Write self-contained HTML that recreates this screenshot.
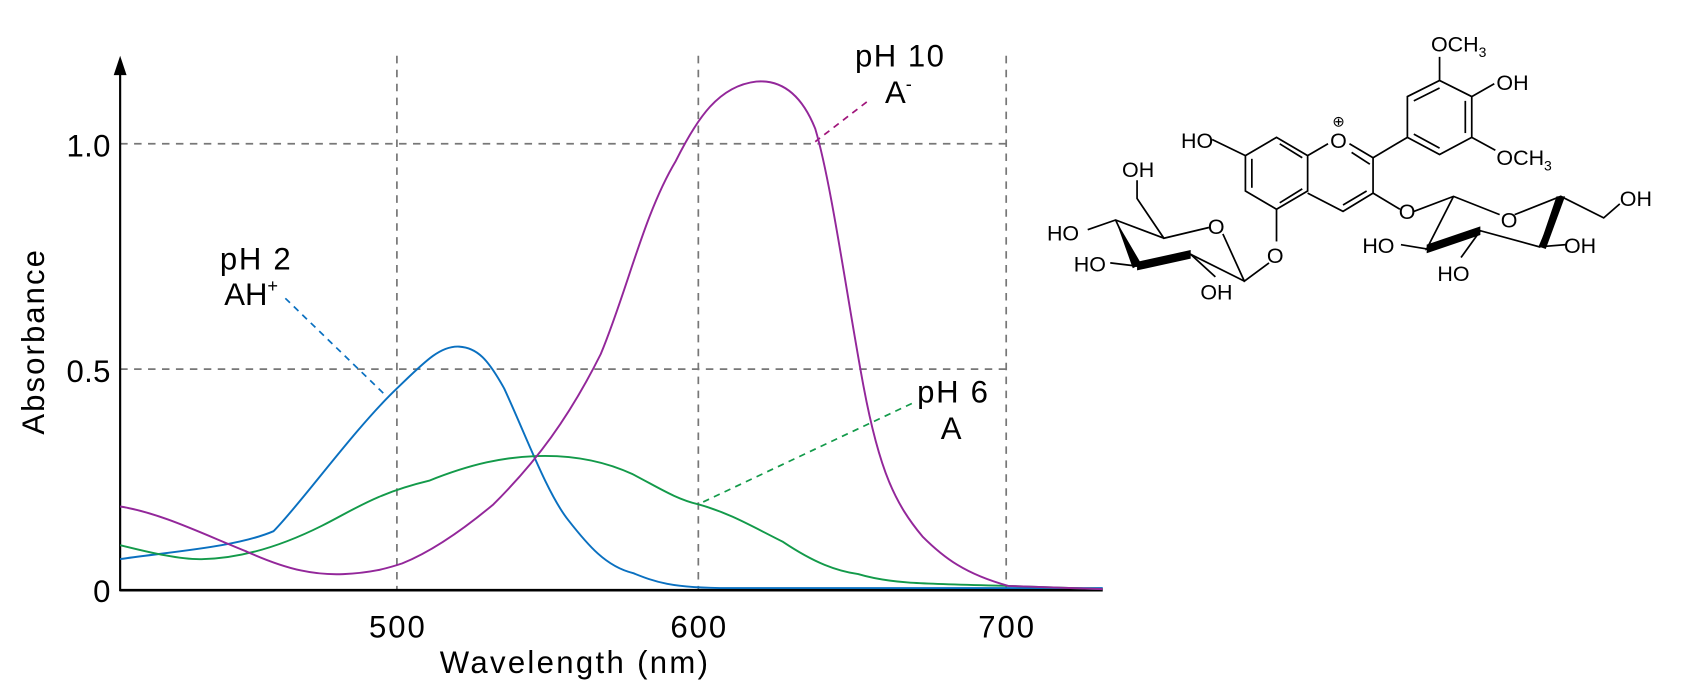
<!DOCTYPE html>
<html><head><meta charset="utf-8"><style>
html,body{margin:0;padding:0;background:#fff;}
svg{display:block;}
text{font-family:"Liberation Sans",sans-serif;fill:#000;}
</style></head><body>
<svg width="1682" height="690" viewBox="0 0 1568 643" preserveAspectRatio="none" xmlns="http://www.w3.org/2000/svg">
<g stroke="#777" stroke-width="1.6" stroke-dasharray="7,6" fill="none">
<line x1="370" y1="52" x2="370" y2="550"/>
<line x1="651" y1="52" x2="651" y2="550"/>
<line x1="938" y1="52" x2="938" y2="550"/>
<line x1="112" y1="134" x2="938" y2="134"/>
<line x1="112" y1="344" x2="938" y2="344"/>
</g>
<line x1="112" y1="65" x2="112" y2="551" stroke="#000" stroke-width="2"/>
<polygon points="112,52 106,70 118,70" fill="#000"/>
<line x1="112" y1="550" x2="1028" y2="550" stroke="#000" stroke-width="2.5"/>
<g font-size="29">
<text x="103" y="146" text-anchor="end" textLength="41">1.0</text>
<text x="103" y="356" text-anchor="end" textLength="41">0.5</text>
<text x="103" y="561" text-anchor="end">0</text>
<text x="370" y="594" text-anchor="middle" textLength="52">500</text>
<text x="651" y="594" text-anchor="middle" textLength="52">600</text>
<text x="938" y="594" text-anchor="middle" textLength="52">700</text>
<text x="410" y="627" textLength="250">Wavelength (nm)</text>
<text transform="translate(41,405) rotate(-90)" textLength="172">Absorbance</text>
<text x="205" y="251" textLength="66">pH 2</text>
<text x="209" y="284">AH<tspan font-size="17" dy="-12">+</tspan></text>
<text x="797" y="62" textLength="83">pH 10</text>
<text x="825" y="96">A<tspan font-size="17" dy="-12">-</tspan></text>
<text x="855" y="375" textLength="66">pH 6</text>
<text x="877" y="409">A</text>
</g>
<g stroke-width="1.6" stroke-dasharray="6,5" fill="none">
<line x1="266" y1="278" x2="358" y2="367" stroke="#0a70c0"/>
<line x1="808" y1="95" x2="760" y2="132" stroke="#a0147a"/>
<line x1="850" y1="376" x2="655" y2="468" stroke="#139a4a"/>
</g>
<g fill="none" stroke-width="1.8">
<path stroke="#0a70c0" d="M112,521 C160,514 220,510 255,495 C280,470 330,400 370,362 C395,338 410,322 428,323 C445,324 455,335 470,362 C490,405 510,460 530,485 C548,508 565,528 590,534 C610,542 625,548 680,548 L1028,548"/>
<path stroke="#139a4a" d="M112,508 C140,515 170,522 190,521 C230,520 270,505 300,490 C330,475 350,460 400,448 C440,432 470,426 500,425 C530,424 560,428 590,442 C615,455 630,465 651,470 C680,478 700,490 730,505 C760,525 780,532 800,535 C830,544 860,544 940,546 L1028,549"/>
<path stroke="#93279a" d="M112,472 C150,478 190,498 230,514 C270,532 295,536 320,535 C345,534 360,530 375,525 C400,515 430,495 460,470 C500,430 530,390 560,330 C585,270 600,200 630,150 C650,110 670,80 705,76 C730,74 748,90 760,120 C775,170 790,280 805,360 C820,440 835,470 860,500 C880,520 900,535 940,546 L1028,549"/>
</g>
<g stroke="#000" stroke-width="1.6" fill="none">
<polyline points="1161,145 1190,128 1219,145 1219,178 1190,195 1161,178 1161,145"/>
<line x1="1167" y1="175" x2="1167" y2="148"/>
<line x1="1193" y1="189" x2="1214" y2="176"/>
<line x1="1193" y1="134" x2="1214" y2="147"/>
<polyline points="1219,145 1238,134"/>
<polyline points="1258,134 1280,147 1280,180 1252,197 1219,180"/>
<line x1="1252" y1="191" x2="1274" y2="178"/>
<line x1="1277" y1="153" x2="1260" y2="142"/>
<line x1="1161" y1="145" x2="1130" y2="130"/>
<line x1="1280" y1="147" x2="1312" y2="128"/>
<polyline points="1312,128 1312,90 1342,75 1372,90 1372,128 1342,144 1312,128"/>
<line x1="1318" y1="94" x2="1342" y2="82"/>
<line x1="1366" y1="94" x2="1366" y2="124"/>
<line x1="1318" y1="125" x2="1342" y2="138"/>
<line x1="1342" y1="75" x2="1342" y2="53"/>
<line x1="1372" y1="90" x2="1393" y2="78"/>
<line x1="1372" y1="128" x2="1394" y2="140"/>
<line x1="1190" y1="195" x2="1190" y2="225"/>
<line x1="1280" y1="180" x2="1305" y2="195"/>
<polyline points="1183,245 1160,262 1140,218"/>
<polyline points="1127,212 1085,222 1060,185 1060,168"/>
<polyline points="1085,222 1040,205 1014,214"/>
<line x1="1040" y1="205" x2="1060" y2="248"/>
<line x1="1060" y1="248" x2="1035" y2="245"/>
<polyline points="1060,248 1110,237 1160,262"/>
<line x1="1110" y1="237" x2="1133" y2="258"/>
<polyline points="1318,197 1355,183 1398,200"/>
<polyline points="1412,200 1455,183 1495,203 1510,190"/>
<polyline points="1355,183 1330,232 1380,215 1435,230 1455,183"/>
<line x1="1330" y1="232" x2="1306" y2="228"/>
<line x1="1435" y1="230" x2="1460" y2="228"/>
<line x1="1380" y1="215" x2="1362" y2="240"/>
</g>
<g fill="#000">
<polygon points="1040,205 1056,250 1064,246"/>
<polygon points="1060,244 1110,233 1110,241 1060,252"/>
<polygon points="1330,228 1380,211 1380,219 1330,236"/>
<polygon points="1435,230 1451,183 1459,183 1441,232"/>
</g>
<g font-size="20">
<text x="1334" y="48">OCH<tspan font-size="13" dy="5">3</tspan></text>
<text x="1395" y="84">OH</text>
<text x="1395" y="154">OCH<tspan font-size="13" dy="5">3</tspan></text>
<text x="1101" y="138">HO</text>
<text x="1240" y="138">O</text>
<text x="1242" y="118" font-size="14">⊕</text>
<text x="1046" y="165">OH</text>
<text x="976" y="224">HO</text>
<text x="1126" y="218">O</text>
<text x="1181" y="245">O</text>
<text x="1001" y="253">HO</text>
<text x="1119" y="279">OH</text>
<text x="1304" y="204">O</text>
<text x="1399" y="212">O</text>
<text x="1510" y="192">OH</text>
<text x="1270" y="236">HO</text>
<text x="1458" y="236">OH</text>
<text x="1340" y="262">HO</text>
</g>
</svg>
</body></html>
